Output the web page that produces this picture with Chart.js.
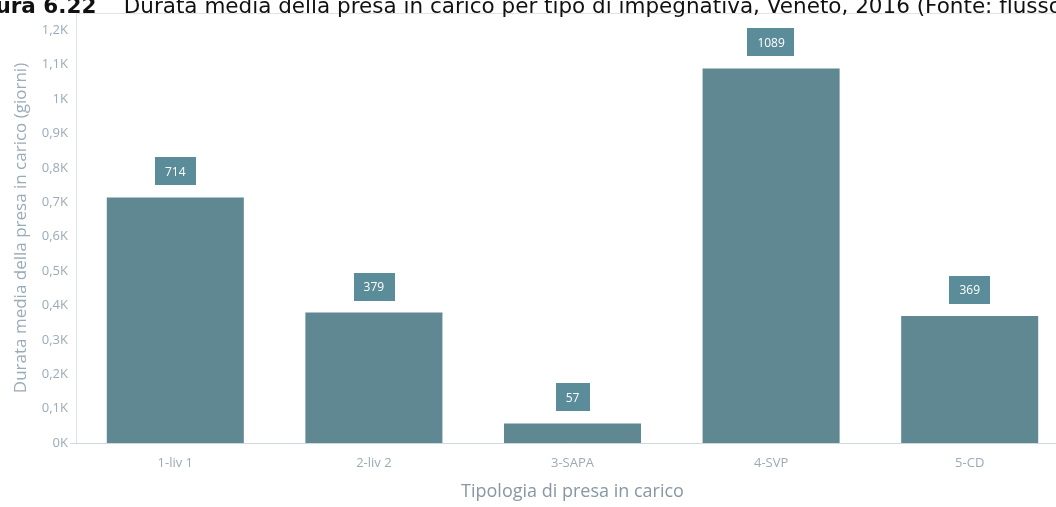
<!DOCTYPE html>
<html>
<head>
<meta charset="utf-8">
<script src="https://cdn.jsdelivr.net/npm/chart.js@4"></script>
<style>
  html, body { margin: 0; padding: 0; background: #fff; overflow: hidden; }
  #wrap { position: relative; width: 1056px; height: 507px; overflow: hidden; }
  #box { position: absolute; left: 0; top: 0; width: 1069px; height: 507px; }
  #titolo {
    position: absolute; left: -42px; top: -7px; white-space: nowrap;
    font-family: "DejaVu Sans", sans-serif; font-size: 21.5px; color: #111;
  }
</style>
</head>
<body>
<div id="wrap">
  <div id="box"><canvas id="grafico"></canvas></div>
  <div id="titolo"><b>Figura 6.22</b>&nbsp;&nbsp;&nbsp; Durata media della presa in carico per tipo di impegnativa, Veneto, 2016 (Fonte: flusso FAR)</div>
</div>
<script>
/* dati */
const categorie = ["1-liv 1", "2-liv 2", "3-SAPA", "4-SVP", "5-CD"];
const durata = [714, 379, 57, 1089, 369];
const tickValori = [0, 100, 200, 300, 400, 500, 600, 700, 800, 900, 1000, 1100, 1200];

const coloreBarra = "#5f8893";
const coloreEtichetta = "#5b8c99";
const coloreAssi = "#9aabb8";

/* etichette sopra le barre */
const etichette = {
  id: "etichette",
  afterDatasetsDraw(chart) {
    const ctx = chart.ctx;
    const meta = chart.getDatasetMeta(0);
    ctx.save();
    ctx.font = "12px 'Open Sans', sans-serif";
    ctx.textAlign = "center";
    ctx.textBaseline = "middle";
    meta.data.forEach((bar, i) => {
      const testo = String(durata[i]);
      const w = ctx.measureText(testo).width + 20;
      const h = 28;
      const x = bar.x;
      const y = bar.y - 12 - h;
      ctx.fillStyle = coloreEtichetta;
      ctx.fillRect(Math.round(x - w / 2), Math.round(y), Math.round(w), h);
      ctx.fillStyle = "#ffffff";
      ctx.fillText(testo, x, y + h / 2 + 1);
    });
    ctx.restore();
  },
};

/* cornice dell'area del grafico */
const cornice = {
  id: "cornice",
  beforeDraw(chart) {
    const a = chart.chartArea;
    const ctx = chart.ctx;
    ctx.save();
    ctx.strokeStyle = "#dde5eb";
    ctx.lineWidth = 1;
    ctx.beginPath();
    ctx.moveTo(a.left + 0.5, a.bottom);
    ctx.lineTo(a.left + 0.5, a.top + 0.5);
    ctx.lineTo(a.right, a.top + 0.5);
    ctx.stroke();
    ctx.strokeStyle = "#cfd8de";
    ctx.beginPath();
    ctx.moveTo(a.left - 6, a.bottom + 0.5);
    ctx.lineTo(a.right, a.bottom + 0.5);
    ctx.stroke();
    ctx.restore();
  },
};

const ctx_grafico = document.getElementById("grafico").getContext("2d");
const grafico = new Chart(ctx_grafico, {
  type: "bar",
  data: {
    labels: categorie,
    datasets: [
      {
        label: "Durata media",
        data: durata,
        backgroundColor: coloreBarra,
        borderWidth: 0,
        barPercentage: 0.69,
        categoryPercentage: 1,
      },
    ],
  },
  options: {
    responsive: true,
    maintainAspectRatio: false,
    animation: false,
    layout: { padding: { top: 13, right: 0, left: 0, bottom: 0 } },
    plugins: {
      legend: { display: false },
      tooltip: { enabled: false },
    },
    scales: {
      x: {
        grid: { display: false },
        border: { display: false },
        ticks: {
          color: coloreAssi,
          font: { family: "'Open Sans', sans-serif", size: 13 },
          padding: 4,
          maxRotation: 0,
        },
        title: {
          display: true,
          text: "Tipologia di presa in carico",
          color: "#8797a4",
          font: { family: "'Open Sans', sans-serif", size: 18 },
          padding: { top: 2, bottom: 4 },
        },
        afterFit(scale) { scale.height = 64; },
      },
      y: {
        min: 0,
        max: 1250,
        grid: { display: false },
        border: { display: false },
        afterBuildTicks(scale) {
          scale.ticks = tickValori.map(v => ({ value: v }));
        },
        ticks: {
          color: coloreAssi,
          font: { family: "'Open Sans', sans-serif", size: 13 },
          padding: 0,
          callback: (v) => (v / 1000).toLocaleString("it-IT") + "K",
        },
        title: {
          display: true,
          text: "Durata media della presa in carico (giorni)",
          color: "#9aabb8",
          font: { family: "'Open Sans', sans-serif", size: 17 },
          padding: { top: 11, bottom: 0 },
        },
        afterFit(scale) { scale.width = 76; },
      },
    },
  },
  plugins: [cornice, etichette],
});
</script>
</body>
</html>
